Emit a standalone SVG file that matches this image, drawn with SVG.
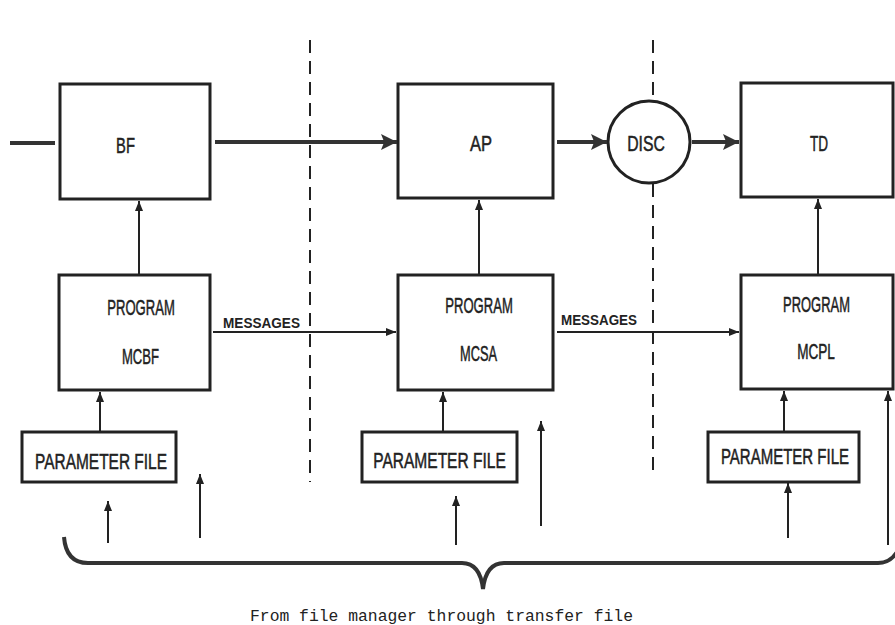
<svg xmlns="http://www.w3.org/2000/svg" width="895" height="625" viewBox="0 0 895 625">
<defs>
<style>
.box{fill:none;stroke:#222;stroke-width:3}
.lbl{font-family:"Liberation Sans",Arial,sans-serif;font-size:22px;fill:#222;stroke:#222;stroke-width:0.5;text-anchor:middle}
.msg{font-family:"Liberation Sans","DejaVu Sans",Arial,sans-serif;font-size:14px;font-weight:bold;fill:#222}
.thin{stroke:#222;stroke-width:2;fill:none}
.thick{stroke:#333;stroke-width:4;fill:none}
.dash{stroke:#222;stroke-width:2;stroke-dasharray:13 8;fill:none}
.cap{font-family:"Liberation Mono","DejaVu Sans Mono",monospace;font-size:16px;fill:#222}
</style>
<marker id="ah" viewBox="0 0 10 10" refX="10" refY="5" markerWidth="5" markerHeight="5" markerUnits="strokeWidth" orient="auto">
<path d="M0,1 L10,5 L0,9 Z" fill="#222"/>
</marker>
<marker id="ahk" viewBox="0 0 10 10" refX="10" refY="5" markerWidth="4" markerHeight="4" markerUnits="strokeWidth" orient="auto">
<path d="M0,0 L10,5 L0,10 L2,5 Z" fill="#333"/>
</marker>
</defs>

<g id="dividers">
<line class="dash" x1="310" y1="40" x2="310" y2="482"/>
<line class="dash" x1="653" y1="40" x2="653" y2="101"/>
<line class="dash" x1="653" y1="184" x2="653" y2="478"/>
</g>

<g id="BF"><rect class="box" x="60" y="84" width="150" height="115"/><text class="lbl" transform="translate(125.5,153) scale(0.65,1)" textLength="29" lengthAdjust="spacingAndGlyphs">BF</text></g>
<g id="AP"><rect class="box" x="398" y="84" width="155" height="114"/><text class="lbl" transform="translate(481,151) scale(0.65,1)" textLength="34" lengthAdjust="spacingAndGlyphs">AP</text></g>
<g id="DISC"><circle class="box" cx="649" cy="142" r="41"/><text class="lbl" transform="translate(646,151) scale(0.65,1)" textLength="58" lengthAdjust="spacingAndGlyphs">DISC</text></g>
<g id="TD"><rect class="box" x="741" y="83" width="152" height="114"/><text class="lbl" transform="translate(819,151) scale(0.65,1)" textLength="28" lengthAdjust="spacingAndGlyphs">TD</text></g>

<g id="MCBF"><rect class="box" x="59" y="275" width="151" height="115"/><text class="lbl" transform="translate(141,315) scale(0.65,1)" textLength="104" lengthAdjust="spacingAndGlyphs">PROGRAM</text><text class="lbl" transform="translate(140.5,364) scale(0.65,1)" textLength="57" lengthAdjust="spacingAndGlyphs">MCBF</text></g>
<g id="MCSA"><rect class="box" x="398" y="275" width="155" height="115"/><text class="lbl" transform="translate(479,313) scale(0.65,1)" textLength="104" lengthAdjust="spacingAndGlyphs">PROGRAM</text><text class="lbl" transform="translate(478.5,361) scale(0.65,1)" textLength="57" lengthAdjust="spacingAndGlyphs">MCSA</text></g>
<g id="MCPL"><rect class="box" x="741" y="275" width="152" height="114"/><text class="lbl" transform="translate(816.5,312) scale(0.65,1)" textLength="103" lengthAdjust="spacingAndGlyphs">PROGRAM</text><text class="lbl" transform="translate(816,359) scale(0.65,1)" textLength="58" lengthAdjust="spacingAndGlyphs">MCPL</text></g>

<g id="PF1"><rect class="box" x="22" y="432" width="154" height="50"/><text class="lbl" transform="translate(101,469) scale(0.65,1)" textLength="203" lengthAdjust="spacingAndGlyphs">PARAMETER FILE</text></g>
<g id="PF2"><rect class="box" x="362" y="432" width="155" height="50"/><text class="lbl" transform="translate(439.5,468) scale(0.65,1)" textLength="204" lengthAdjust="spacingAndGlyphs">PARAMETER FILE</text></g>
<g id="PF3"><rect class="box" x="708" y="432" width="151" height="50"/><text class="lbl" transform="translate(785,464) scale(0.65,1)" textLength="197" lengthAdjust="spacingAndGlyphs">PARAMETER FILE</text></g>

<g id="connectors">
<line class="thick" x1="10" y1="143" x2="55" y2="143"/>
<line class="thick" x1="215" y1="142" x2="397" y2="142" marker-end="url(#ahk)"/>
<line class="thick" x1="557" y1="142" x2="607" y2="142" marker-end="url(#ahk)"/>
<line class="thick" x1="692" y1="142" x2="739" y2="142" marker-end="url(#ahk)"/>

<line class="thin" x1="139" y1="275" x2="139" y2="201" marker-end="url(#ah)"/>
<line class="thin" x1="479" y1="275" x2="479" y2="200" marker-end="url(#ah)"/>
<line class="thin" x1="818" y1="275" x2="818" y2="199" marker-end="url(#ah)"/>

<line class="thin" x1="100" y1="432" x2="100" y2="392" marker-end="url(#ah)"/>
<line class="thin" x1="443" y1="432" x2="443" y2="392" marker-end="url(#ah)"/>
<line class="thin" x1="784" y1="432" x2="784" y2="391" marker-end="url(#ah)"/>

<line class="thin" x1="213" y1="332" x2="396" y2="332" marker-end="url(#ah)"/>
<line class="thin" x1="557" y1="332" x2="739" y2="332" marker-end="url(#ah)"/>
<text class="msg" x="223" y="328" textLength="77" lengthAdjust="spacingAndGlyphs">MESSAGES</text>
<text class="msg" x="561" y="325" textLength="76" lengthAdjust="spacingAndGlyphs">MESSAGES</text>

<line class="thin" x1="108" y1="543" x2="108" y2="501" marker-end="url(#ah)"/>
<line class="thin" x1="200" y1="538" x2="200" y2="474" marker-end="url(#ah)"/>
<line class="thin" x1="456" y1="545" x2="456" y2="496" marker-end="url(#ah)"/>
<line class="thin" x1="541" y1="526" x2="541" y2="421" marker-end="url(#ah)"/>
<line class="thin" x1="788" y1="538" x2="788" y2="483" marker-end="url(#ah)"/>
<line class="thin" x1="888" y1="545" x2="888" y2="391" marker-end="url(#ah)"/>
</g>

<g id="brace">
<path class="thick" d="M64,537 Q66,563 88,563 L462,563 Q480,563 483,589 Q486,563 504,563 L878,563 Q890,563 897,552"/>
</g>
<text class="cap" x="250" y="621" textLength="383" lengthAdjust="spacingAndGlyphs">From file manager through transfer file</text>
</svg>
